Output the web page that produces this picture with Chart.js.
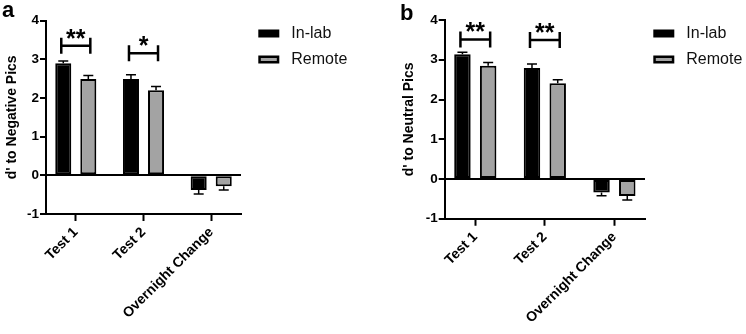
<!DOCTYPE html>
<html>
<head>
<meta charset="utf-8">
<script src="https://cdn.jsdelivr.net/npm/chart.js@4"></script>
<style>
  html, body { margin: 0; padding: 0; background: #fff; }
  #wrap { display: flex; width: 746px; height: 334px; }
  canvas { display: block; }
</style>
</head>
<body>
<div id="wrap">
  <canvas id="chartA" width="373" height="334"></canvas>
  <canvas id="chartB" width="373" height="334"></canvas>
</div>
<script>
// categories and groups
const categories = ["Test 1", "Test 2", "Overnight Change"];
const groups = ["In-lab", "Remote"];
const yTicks = [-1, 0, 1, 2, 3, 4];

// panel a: d' to negative pictures (mean, SEM)
const negInLab = [2.90, 2.49, -0.38];
const negInLabErr = [0.06, 0.11, 0.10];
const negRemote = [2.49, 2.20, -0.28];
const negRemoteErr = [0.09, 0.10, 0.10];
const negSigLabels = ["**", "*", ""];
const negSigLevels = [3.35, 3.16, null];

// panel b: d' to neutral pictures (mean, SEM)
const neuInLab = [3.14, 2.79, -0.34];
const neuInLabErr = [0.05, 0.10, 0.08];
const neuRemote = [2.85, 2.41, -0.43];
const neuRemoteErr = [0.08, 0.09, 0.10];
const neuSigLabels = ["**", "**", ""];
const neuSigLevels = [3.51, 3.50, null];

const FONT = "'Liberation Sans', Arial, Helvetica, sans-serif";

const errorBars = {
  id: "errorBars",
  afterDatasetsDraw(chart) {
    const ctx = chart.ctx;
    const y = chart.scales.y;
    ctx.save();
    ctx.strokeStyle = "#000";
    ctx.lineWidth = 1.5;
    chart.data.datasets.forEach((ds, i) => {
      const meta = chart.getDatasetMeta(i);
      meta.data.forEach((bar, j) => {
        const v = ds.data[j].y;
        const e = ds.errors[j];
        const tip = y.getPixelForValue(v >= 0 ? v + e : v - e);
        ctx.beginPath();
        ctx.moveTo(bar.x, bar.y);
        ctx.lineTo(bar.x, tip);
        ctx.moveTo(bar.x - 5, tip);
        ctx.lineTo(bar.x + 5, tip);
        ctx.stroke();
      });
    });
    ctx.restore();
  }
};

const sigBrackets = {
  id: "sigBrackets",
  afterDatasetsDraw(chart, args, opts) {
    const ctx = chart.ctx;
    const y = chart.scales.y;
    const m0 = chart.getDatasetMeta(0), m1 = chart.getDatasetMeta(1);
    ctx.save();
    ctx.strokeStyle = "#000";
    ctx.fillStyle = "#000";
    ctx.lineWidth = 2.5;
    opts.labels.forEach((lab, j) => {
      if (!lab) return;
      const x0 = m0.data[j].x - 2, x1 = m1.data[j].x + 2;
      const py = y.getPixelForValue(opts.levels[j]);
      ctx.beginPath();
      ctx.moveTo(x0, py - 8); ctx.lineTo(x0, py + 8);
      ctx.moveTo(x0, py); ctx.lineTo(x1, py);
      ctx.moveTo(x1, py - 8); ctx.lineTo(x1, py + 8);
      ctx.stroke();
      ctx.font = "bold 25px " + FONT;
      ctx.textAlign = "center";
      ctx.textBaseline = "alphabetic";
      const mt = ctx.measureText(lab);
      const cy = py - 12;
      ctx.fillText(lab, (x0 + x1) / 2, cy + (mt.actualBoundingBoxAscent - mt.actualBoundingBoxDescent) / 2);
    });
    ctx.restore();
  }
};

const sideLegend = {
  id: "sideLegend",
  afterDraw(chart, args, opts) {
    const ctx = chart.ctx;
    ctx.save();
    ctx.font = "16px " + FONT;
    ctx.textBaseline = "middle";
    ctx.textAlign = "left";
    chart.data.datasets.forEach((ds, i) => {
      const cy = opts.y + i * 26;
      ctx.fillStyle = ds.borderColor;
      ctx.fillRect(opts.x, cy - 4, 21, 8);
      ctx.fillStyle = ds.backgroundColor;
      ctx.fillRect(opts.x + 2.5, cy - 1.5, 16, 3);
      ctx.fillStyle = "#111";
      ctx.fillText(ds.label, opts.x + 33, cy);
    });
    ctx.restore();
  }
};

const panelLetter = {
  id: "panelLetter",
  afterDraw(chart, args, opts) {
    const ctx = chart.ctx;
    ctx.save();
    ctx.font = "bold 22px " + FONT;
    ctx.fillStyle = "#000";
    ctx.textBaseline = "alphabetic";
    ctx.fillText(opts.text, opts.x, opts.y);
    ctx.restore();
  }
};

function makeChart(id, inLab, inLabErr, remote, remoteErr, sigLabels, sigLevels, yTitle, lay) {
  const barStyle = { borderWidth: 2, borderSkipped: false, barPercentage: 0.64, categoryPercentage: 0.74 };
  return new Chart(document.getElementById(id), {
    type: "bar",
    data: {
      datasets: [
        Object.assign({
          label: groups[0],
          data: inLab.map((v, i) => ({ x: i, y: v })),
          errors: inLabErr,
          backgroundColor: "#000",
          borderColor: "#000"
        }, barStyle),
        Object.assign({
          label: groups[1],
          data: remote.map((v, i) => ({ x: i, y: v })),
          errors: remoteErr,
          backgroundColor: "#a3a3a3",
          borderColor: "#000"
        }, barStyle)
      ]
    },
    options: {
      responsive: false,
      animation: false,
      layout: { padding: { left: lay.padLeft, right: lay.padRight, top: lay.padTop, bottom: 0 } },
      plugins: {
        legend: { display: false },
        tooltip: { enabled: false },
        sigBrackets: { labels: sigLabels, levels: sigLevels },
        sideLegend: { x: lay.legendX, y: 33.5 },
        panelLetter: lay.letter
      },
      scales: {
        x: {
          type: "linear",
          min: -0.44,
          max: 2.44,
          offset: false,
          afterBuildTicks: (s) => { s.ticks = categories.map((c, i) => ({ value: i })); },
          afterFit: (s) => { s.height = lay.xHeight; },
          ticks: {
            autoSkip: false,
            minRotation: 45,
            maxRotation: 45,
            padding: 3,
            color: "#000",
            font: { family: FONT, size: 14, weight: "bold" },
            callback: (v) => categories[v]
          },
          grid: { offset: false, drawOnChartArea: false, tickColor: "#000", tickLength: 7, tickWidth: 2 },
          border: { color: "#000", width: 2 }
        },
        y: {
          min: -1,
          max: 4,
          afterBuildTicks: (s) => { s.ticks = yTicks.map((v) => ({ value: v })); },
          afterFit: (s) => { s.width = lay.yWidth; },
          ticks: {
            padding: 1,
            color: "#000",
            font: { family: FONT, size: 13.5, weight: "bold" }
          },
          grid: {
            color: (c) => (c.tick && c.tick.value === 0 ? "#000" : "rgba(0,0,0,0)"),
            lineWidth: 2,
            tickColor: "#000",
            tickLength: 6,
            tickWidth: 2
          },
          border: { color: "#000", width: 2 },
          title: {
            display: true,
            text: yTitle,
            color: "#000",
            padding: { top: 4, bottom: 0 },
            font: { family: FONT, size: 14, weight: "bold" }
          }
        }
      }
    },
    plugins: [errorBars, sigBrackets, sideLegend, panelLetter]
  });
}

makeChart("chartA", negInLab, negInLabErr, negRemote, negRemoteErr, negSigLabels, negSigLevels,
  "d' to Negative Pics",
  { padLeft: 0, padRight: 132, padTop: 20.7, yWidth: 46, xHeight: 120, legendX: 258.3,
    letter: { text: "a", x: 2, y: 17 } });

makeChart("chartB", neuInLab, neuInLabErr, neuRemote, neuRemoteErr, neuSigLabels, neuSigLevels,
  "d' to Neutral Pics",
  { padLeft: 24, padRight: 101, padTop: 20, yWidth: 47.7, xHeight: 115.25, legendX: 280.3,
    letter: { text: "b", x: 27, y: 19.5 } });
</script>
</body>
</html>
